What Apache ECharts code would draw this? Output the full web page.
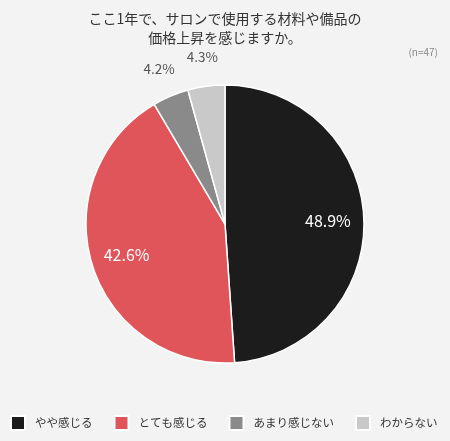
<!DOCTYPE html>
<html>
<head>
<meta charset="utf-8">
<script src="https://cdn.jsdelivr.net/npm/echarts@6/dist/echarts.min.js"></script>
<style>
  html, body { margin: 0; padding: 0; background: #f3f3f3; }
  #chart { width: 450px; height: 441px; }
</style>
</head>
<body>
<div id="chart"></div>
<script>
// データ
const categories = ["やや感じる", "とても感じる", "あまり感じない", "わからない"];
const values = [48.9, 42.6, 4.2, 4.3];
const colors = ["#1c1c1c", "#e0555a", "#8a8a8a", "#c9c9c9"];
const innerLabel = [true, true, false, false]; // 内側にラベルを置くもの

const font = '"Noto Sans CJK JP", "Noto Sans", sans-serif';
const center = ["50%", "50.8%"];

const mainData = categories.map((name, i) => ({
  name: name,
  value: values[i],
  itemStyle: { color: colors[i] }
}));

// ラベル専用の透明なシリーズ
function labelSeries(radius, showIf, color, size) {
  return {
    type: "pie",
    silent: true,
    center: center,
    radius: radius,
    startAngle: 90,
    clockwise: true,
    legendHoverLink: false,
    itemStyle: { color: "transparent" },
    emphasis: { disabled: true },
    data: categories.map((name, i) => ({
      name: name + "_l",
      value: values[i],
      label: {
        show: showIf(i),
        position: "inside",
        formatter: values[i].toFixed(1) + "%",
        color: color,
        fontSize: size,
        fontFamily: font
      }
    }))
  };
}

const chart = echarts.init(document.getElementById("chart"));
chart.setOption({
  backgroundColor: "#f3f3f3",
  animation: false,
  title: [
    {
      text: "ここ1年で、サロンで使用する材料や備品の\n価格上昇を感じますか。",
      left: "center",
      top: 4,
      textStyle: { fontSize: 14, fontWeight: "normal", color: "#333", fontFamily: font, lineHeight: 19 }
    },
    {
      text: "(n=47)",
      right: 7,
      top: 42,
      textStyle: { fontSize: 10, fontWeight: "normal", color: "#888", fontFamily: font }
    }
  ],
  legend: {
    data: categories,
    left: 10,
    right: 0,
    bottom: 10,
    padding: 0,
    itemWidth: 14,
    itemHeight: 14,
    itemGap: 21,
    icon: "rect",
    textStyle: { fontSize: 11.5, color: "#333", fontFamily: font, padding: [0, 0, 0, 5] }
  },
  series: [
    {
      type: "pie",
      center: center,
      radius: [0, 139],
      startAngle: 90,
      clockwise: true,
      label: { show: false },
      labelLine: { show: false },
      itemStyle: { borderColor: "#ffffff", borderWidth: 1.5 },
      data: mainData
    },
    labelSeries([60, 140], i => innerLabel[i], "#ffffff", 16),
    labelSeries([140, 191], i => !innerLabel[i], "#555555", 13.5)
  ]
});
</script>
</body>
</html>
